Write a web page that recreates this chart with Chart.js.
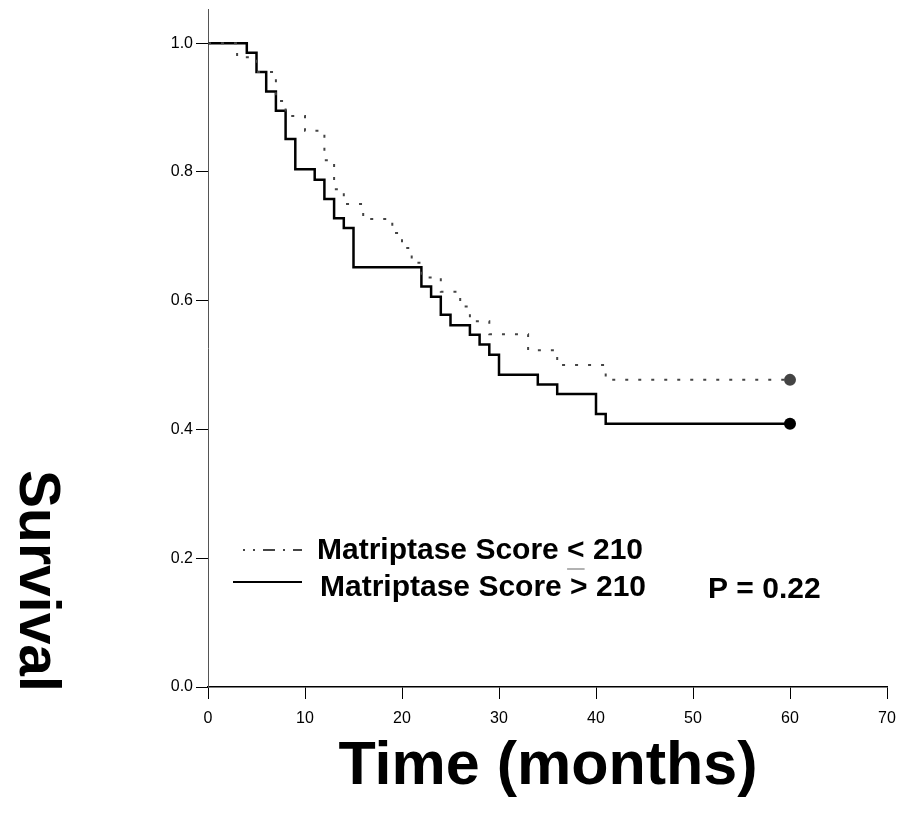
<!DOCTYPE html>
<html>
<head>
<meta charset="utf-8">
<script src="https://cdn.jsdelivr.net/npm/chart.js@4.4.1/dist/chart.umd.min.js"></script>
<style>
  html, body { margin: 0; padding: 0; background: #fff; overflow: hidden; }
  #wrap { width: 899px; height: 813px; }
</style>
</head>
<body>
<div id="wrap"><canvas id="chart"></canvas></div>
<script>
// Kaplan-Meier steps (time in months, survival after the drop)
var lowTimes  = [0, 3, 5, 7, 8, 10, 12, 13, 14, 16, 19, 20, 21, 22, 24, 26, 27, 29, 33, 36, 41, 60];
var lowSurv   = [1.0, 0.978, 0.955, 0.910, 0.887, 0.864, 0.818, 0.773, 0.750, 0.727, 0.705, 0.682, 0.659, 0.636, 0.614, 0.591, 0.568, 0.548, 0.523, 0.500, 0.477, 0.477];
var highTimes = [0, 4, 5, 6, 7, 8, 9, 11, 12, 13, 14, 15, 22, 23, 24, 25, 27, 28, 29, 30, 34, 36, 40, 41, 60];
var highSurv  = [1.0, 0.985, 0.955, 0.925, 0.895, 0.851, 0.804, 0.788, 0.758, 0.728, 0.713, 0.652, 0.622, 0.606, 0.578, 0.562, 0.547, 0.532, 0.516, 0.485, 0.470, 0.455, 0.424, 0.409, 0.409];
var yTicks = [0, 0.2, 0.4, 0.6, 0.8, 1.0];
var lowLabel = "Matriptase Score < 210";
var highLabel = "Matriptase Score > 210";
var pText = "P = 0.22";
var xTitle = "Time (months)";
var yTitle = "Survival";

function toPoints(xs, ys) {
  return xs.map(function (x, i) { return { x: x, y: ys[i] }; });
}
function endDot(arr, r) {
  return arr.map(function (v, i) { return i === arr.length - 1 ? r : 0; });
}

var FONT = '"Liberation Sans", Arial, Helvetica, sans-serif';

var textPlugin = {
  id: 'textPlugin',
  afterDraw: function (chart) {
    var ctx = chart.ctx;
    ctx.save();
    ctx.fillStyle = '#000';

    // x axis title
    ctx.font = 'bold 61px ' + FONT;
    ctx.textAlign = 'center';
    ctx.textBaseline = 'alphabetic';
    ctx.fillText(xTitle, 548, 784);

    // y axis title, reads top to bottom
    ctx.save();
    ctx.translate(36, 581);
    ctx.rotate(Math.PI / 2);
    ctx.font = 'bold 57px ' + FONT;
    ctx.textAlign = 'center';
    ctx.textBaseline = 'middle';
    ctx.fillText(yTitle, 0, 0);
    ctx.restore();

    // legend samples
    ctx.strokeStyle = '#444';
    ctx.lineWidth = 2;
    ctx.setLineDash([2, 8, 2, 8, 10, 0]);
    ctx.beginPath();
    ctx.moveTo(243, 550);
    ctx.lineTo(302, 550);
    ctx.stroke();
    ctx.setLineDash([]);
    ctx.strokeStyle = '#000';
    ctx.beginPath();
    ctx.moveTo(233, 582);
    ctx.lineTo(302, 582);
    ctx.stroke();

    // legend texts
    ctx.font = 'bold 30px ' + FONT;
    ctx.textAlign = 'left';
    ctx.textBaseline = 'middle';
    ctx.fillText(lowLabel, 317, 551);
    ctx.fillText(highLabel, 320, 588);
    ctx.fillText(pText, 708, 590);

    // underline under "<" (less or equal)
    var pre = ctx.measureText("Matriptase Score ").width;
    var lt = ctx.measureText("<").width;
    ctx.strokeStyle = '#999';
    ctx.lineWidth = 1.5;
    ctx.beginPath();
    ctx.moveTo(317 + pre, 569);
    ctx.lineTo(317 + pre + lt, 569);
    ctx.stroke();
    ctx.restore();
  }
};

var ctx = document.getElementById('chart');
var chart = new Chart(ctx, {
  type: 'line',
  data: {
    datasets: [
      {
        label: lowLabel,
        data: toPoints(lowTimes, lowSurv),
        stepped: true,
        borderColor: '#444',
        borderWidth: 2,
        borderDash: [3, 10],
        pointRadius: endDot(lowTimes, 6),
        pointBackgroundColor: '#444',
        pointBorderWidth: 0,
        fill: false
      },
      {
        label: highLabel,
        data: toPoints(highTimes, highSurv),
        stepped: true,
        borderColor: '#000',
        borderWidth: 2.5,
        pointRadius: endDot(highTimes, 6),
        pointBackgroundColor: '#000',
        pointBorderWidth: 0,
        fill: false
      }
    ]
  },
  options: {
    responsive: true,
    maintainAspectRatio: false,
    animation: false,
    layout: { autoPadding: false, padding: { left: 0, right: 12, top: 9, bottom: 0 } },
    plugins: {
      legend: { display: false },
      tooltip: { enabled: false }
    },
    scales: {
      x: {
        type: 'linear',
        min: 0,
        max: 70,
        ticks: {
          stepSize: 10,
          color: '#000',
          padding: 10,
          font: { family: FONT, size: 16 }
        },
        grid: {
          drawOnChartArea: false,
          tickLength: 12,
          tickColor: '#000',
          tickWidth: 1
        },
        border: { display: true, color: '#000', width: 1.5 },
        afterFit: function (scale) {
          scale.height = 126;
          scale.paddingLeft = 0;
          scale.paddingRight = 0;
        }
      },
      y: {
        type: 'linear',
        min: 0,
        max: 1.053,
        afterBuildTicks: function (scale) {
          scale.ticks = yTicks.map(function (v) { return { value: v }; });
        },
        ticks: {
          color: '#000',
          padding: 3,
          font: { family: FONT, size: 16 },
          callback: function (v) { return v.toFixed(1); }
        },
        grid: {
          drawOnChartArea: false,
          tickLength: 12,
          tickColor: '#000',
          tickWidth: 1
        },
        border: { display: true, color: '#555', width: 1 },
        afterFit: function (scale) {
          scale.width = 208;
          scale.paddingTop = 0;
          scale.paddingBottom = 0;
        }
      }
    }
  },
  plugins: [textPlugin]
});
</script>
</body>
</html>
